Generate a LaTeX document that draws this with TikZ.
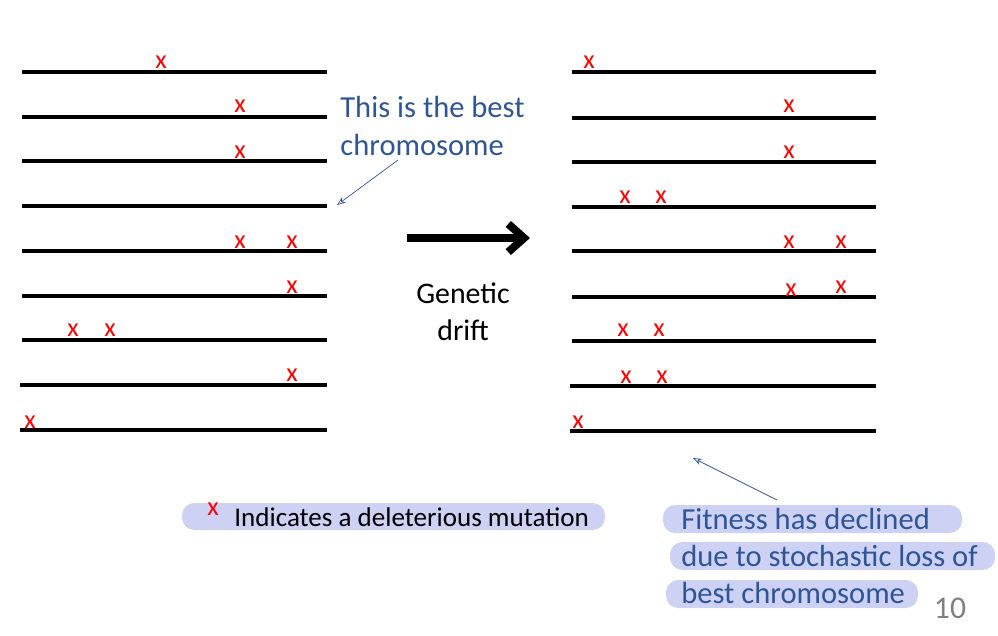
\documentclass[tikz,border=0pt]{standalone}
\usepackage{fontspec}
\setmainfont{Carlito}
\usetikzlibrary{calc, arrows.meta}
\definecolor{txtblue}{RGB}{47,85,151}
\definecolor{hilite}{RGB}{205,210,245}
\tikzset{
    chromo/.style={line width=2.1pt},
    mut/.style={text=red, font=\fontsize{15}{15}\selectfont, inner sep=0pt},
    note/.style={text=txtblue, font=\fontsize{17.4}{20}\selectfont, anchor=west, inner sep=0pt},
    band/.style={fill=hilite, rounded corners=7pt}
}
\begin{document}
\begin{tikzpicture}[x=0.02cm, y=-0.02cm]
    \useasboundingbox (0,0) rectangle (998,636);
    % Left population
    \foreach \y/\s in {72/22, 117/22, 161/22, 206/22, 251/22, 296/22, 340/22, 385/20, 430/20}
        \draw[chromo] (\s,\y) -- (327,\y);
    \coordinate (best) at (337,205);
    % Right population
    \foreach \y/\s in {72/572, 118/572, 162/572, 207/572, 251/572, 297/572, 341/572, 386/570, 431/570}
        \draw[chromo] (\s,\y) -- (876,\y);
    % Mutations, left
    \foreach \x/\y in {161/62, 240/106, 240/152, 240/242, 292/242, 292/287,
                       73/330, 110/330, 292/375, 30/422}
        \node[mut] at (\x,\y) {x};
    % Mutations, right
    \foreach \x/\y in {589/62, 789/106, 789/152, 625/197, 661/197, 789/242, 841/242,
                       791/290, 841/287, 623/330, 659/330, 626/377, 662/377, 578/422}
        \node[mut] at (\x,\y) {x};
    % Labels
    \node[note] (bestA) at (340,107) {This is the best};
    \node[note] (bestB) at (340,145) {chromosome};
    \draw[txtblue, -{Stealth[length=5pt, open]}] (398,160) -- (best);
    \coordinate (arA) at (407,238);
    \coordinate (arB) at (530,238);
    \draw[line width=4.5pt, -{Straight Barb[length=9pt, width=16pt]}] (arA) -- (arB);
    \node[font=\fontsize{17}{20}\selectfont] (gen) at (463,293) {Genetic};
    \node[font=\fontsize{17}{20}\selectfont] (dri) at (463,330) {drift};
    % Legend
    \fill[band] (182,503) rectangle (605,530);
    \node[mut] (lx) at (213,509) {x};
    \node[anchor=west, font=\fontsize{15.4}{18}\selectfont, inner sep=0pt] (leg) at (234,517) {Indicates a deleterious mutation};
    % Conclusion
    \fill[band] (663,505) rectangle (962,533);
    \fill[band] (670,542) rectangle (995,570);
    \fill[band] (666,580) rectangle (918,608);
    \node[note] (fitA) at (681,519) {Fitness has declined};
    \node[note] (fitB) at (681,556) {due to stochastic loss of};
    \node[note] (fitC) at (681,593) {best chromosome};
    \coordinate (lost) at (693,458);
    \draw[txtblue, -{Stealth[length=5pt, open]}] (777,500) -- (lost);
    \node[text=gray, font=\fontsize{18}{20}\selectfont] (pg) at (950,608) {10};
\end{tikzpicture}
\end{document}
